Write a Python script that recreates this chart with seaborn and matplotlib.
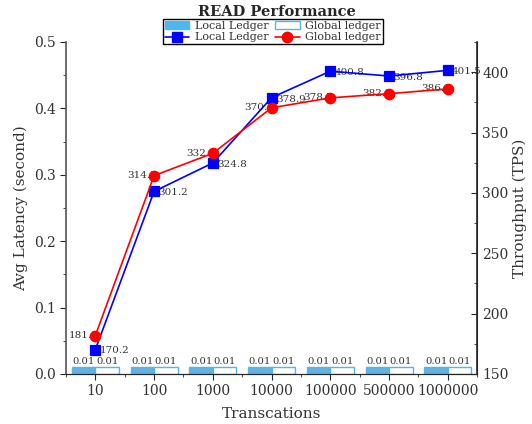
import numpy as np
import pandas as pd
import matplotlib
matplotlib.use("Agg")
import matplotlib.pyplot as plt
import seaborn as sns
from matplotlib.patches import Patch
from matplotlib.lines import Line2D
from matplotlib.ticker import MultipleLocator, FixedLocator

# veri
transactions = ['10', '100', '1000', '10000', '100000', '500000', '1000000']
local_latency = [0.01, 0.01, 0.01, 0.01, 0.01, 0.01, 0.01]
global_latency = [0.01, 0.01, 0.01, 0.01, 0.01, 0.01, 0.01]
local_tps = [170.2, 301.2, 324.8, 378.9, 400.8, 396.8, 401.5]
global_tps = [181.8, 314.3, 332.8, 370.5, 378.7, 382.2, 386.1]

sns.set_style("ticks")
plt.rcParams['font.family'] = ['DejaVu Serif']
plt.rcParams['axes.unicode_minus'] = False

bar_df = pd.DataFrame({
    'tx': transactions * 2,
    'lat': local_latency + global_latency,
    'ledger': ['Local Ledger'] * 7 + ['Global ledger'] * 7,
})

bar_blue = '#4FB6F2'
txt = '#333333'

fig = plt.figure(figsize=(5.32, 4.24), dpi=100)
ax = fig.add_axes([0.124, 0.118, 0.773, 0.783])

sns.barplot(data=bar_df, x='tx', y='lat', hue='ledger', order=transactions,
            palette=[bar_blue, 'white'], width=0.8, ax=ax, legend=False)
for patch in ax.containers[0]:
    patch.set_edgecolor(bar_blue)
    patch.set_linewidth(1)
for patch in ax.containers[1]:
    patch.set_facecolor('white')
    patch.set_edgecolor(bar_blue)
    patch.set_linewidth(1)
for cont in ax.containers:
    ax.bar_label(cont, fmt='%.2f', fontsize=7.2, padding=1, color=txt)

ax.set_xlim(-0.5, 6.5)
ax.set_ylim(0, 0.5)
ax.yaxis.set_major_locator(MultipleLocator(0.1))
ax.yaxis.set_minor_locator(MultipleLocator(0.05))
ax.xaxis.set_minor_locator(FixedLocator(np.arange(-0.5, 6.6, 1)))
ax.tick_params(axis='both', which='both', direction='out', labelsize=10,
               labelcolor=txt)
ax.tick_params(axis='both', which='major', length=4)
ax.tick_params(axis='both', which='minor', length=2.5)
ax.set_ylabel('Avg Latency (second)', fontsize=11, labelpad=4, color=txt)
ax.set_xlabel('Transcations', fontsize=11, labelpad=6, color=txt)
ax.spines['top'].set_visible(False)
ax.spines['left'].set_color('#555555')
ax.spines['left'].set_linewidth(1.2)

# ikinci eksen: TPS
ax2 = ax.twinx()
sns.pointplot(x=transactions, y=local_tps, color='blue', markers='s',
              markersize=6.5, linewidth=1.2, ax=ax2)
sns.pointplot(x=transactions, y=global_tps, color='red', markers='o',
              markersize=7.5, linewidth=1.2, ax=ax2)
ax2.set_xlim(-0.5, 6.5)
ax2.set_ylim(150, 425)
ax2.yaxis.set_major_locator(MultipleLocator(50))
ax2.yaxis.set_minor_locator(MultipleLocator(25))
ax2.tick_params(axis='y', which='both', direction='in', labelsize=10,
                labelcolor=txt)
ax2.tick_params(axis='y', which='major', length=4)
ax2.tick_params(axis='y', which='minor', length=2.5)
ax2.set_ylabel('Throughput (TPS)', fontsize=11, labelpad=3, color=txt)
ax2.spines['top'].set_visible(False)
ax2.spines['left'].set_visible(False)
ax2.spines['right'].set_linewidth(1.2)

for i, v in enumerate(local_tps):
    ax2.annotate(f'{v:.1f}', (i, v), xytext=(3, -1), textcoords='offset points',
                 ha='left', va='center', fontsize=7.5, color=txt, zorder=1)
for i, v in enumerate(global_tps):
    ax2.annotate(f'{v:.1f}', (i, v), xytext=(2, 0), textcoords='offset points',
                 ha='right', va='center', fontsize=7.5, color=txt, zorder=1)

# lejant
handles = [
    Patch(facecolor=bar_blue, edgecolor=bar_blue),
    Line2D([], [], color='blue', marker='s', markersize=6.5, linewidth=1.2),
    Patch(facecolor='white', edgecolor=bar_blue),
    Line2D([], [], color='red', marker='o', markersize=7.5, linewidth=1.2),
]
labels = ['Local Ledger', 'Local Ledger', 'Global ledger', 'Global ledger']
leg = fig.legend(handles, labels, ncol=2, loc='upper center',
                 bbox_to_anchor=(0.513, 0.955), fontsize=8, frameon=True,
                 fancybox=False, edgecolor='black', framealpha=1,
                 borderpad=0.15, labelspacing=0.15, columnspacing=0.6,
                 handlelength=2.2, handletextpad=0.5, borderaxespad=0)
leg.get_frame().set_linewidth(1)
for t in leg.get_texts():
    t.set_color(txt)

fig.text(0.52, 0.972, 'READ Performance', ha='center', va='center',
         fontsize=10.5, fontweight='semibold')

plt.savefig('out.png', dpi=100)
